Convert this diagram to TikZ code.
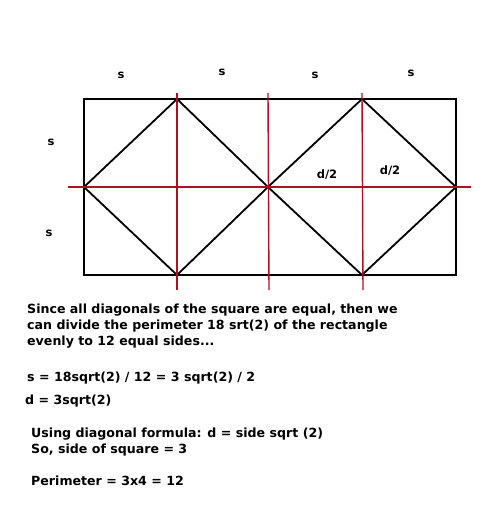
\documentclass[tikz,border=0pt]{standalone}
\usepackage{fontspec}
\setmainfont{DejaVu Sans}
\definecolor{redline}{RGB}{175,15,35}
\begin{document}
\begin{tikzpicture}[x=1pt,y=-1pt,
  blk/.style={line width=1.8pt,black},
  rl/.style={line width=1.4pt,redline},
  lbl/.style={font=\bfseries\fontsize{11.5}{13}\selectfont,inner sep=0pt},
  txt/.style={font=\bfseries\fontsize{12.6}{14}\selectfont,inner sep=0pt,anchor=base west}]
\useasboundingbox (0,0) rectangle (499,531);
% corners and vertices
\coordinate (tl) at (84,99);
\coordinate (br) at (456,275);
\coordinate (L) at (84,187);
\coordinate (T1) at (177,99);
\coordinate (B1) at (177,275);
\coordinate (M) at (268,187);
\coordinate (T2) at (362,99);
\coordinate (B2) at (362,275);
\coordinate (R) at (456,187);
% rectangle and diamonds
\draw[blk] (tl) rectangle (br);
\draw[blk,line join=miter] (L) -- (T1) -- (M) -- (B1) -- cycle;
\draw[blk,line join=miter] (M) -- (T2) -- (R) -- (B2) -- cycle;
% red guide lines
\coordinate (h1) at (68,187);
\coordinate (h2) at (471,187);
\coordinate (v1a) at (177,93);
\coordinate (v1b) at (177,290);
\coordinate (v2a) at (268,93);
\coordinate (v2b) at (269,290);
\coordinate (v3a) at (362,93);
\coordinate (v3b) at (363,290);
\draw[rl] (h1) -- (h2);
\draw[rl] (v1a) -- (v1b);
\draw[rl] (v2a) -- (v2b);
\draw[rl] (v3a) -- (v3b);
% labels
\node[lbl] (s1) at (121,75) {s};
\node[lbl] (s2) at (222,72) {s};
\node[lbl] (s3) at (315,75) {s};
\node[lbl] (s4) at (411,73) {s};
\node[lbl] (s5) at (51,142) {s};
\node[lbl] (s6) at (49,233) {s};
\node[lbl] (d1) at (327,175) {d/2};
\node[lbl] (d2) at (390,171) {d/2};
% text
\node[txt] (t1) at (27,313) {Since all diagonals of the square are equal, then we};
\node[txt] (t2) at (27,329) {can divide the perimeter 18 srt(2) of the rectangle};
\node[txt] (t3) at (27,345) {evenly to 12 equal sides...};
\node[txt] (t4) at (27,381) {s = 18sqrt(2) / 12 = 3 sqrt(2) / 2};
\node[txt] (t5) at (25,404) {d = 3sqrt(2)};
\node[txt] (t6) at (31,437) {Using diagonal formula: d = side sqrt (2)};
\node[txt] (t7) at (31,453) {So, side of square = 3};
\node[txt] (t8) at (31,485) {Perimeter = 3x4 = 12};
\end{tikzpicture}
\end{document}
